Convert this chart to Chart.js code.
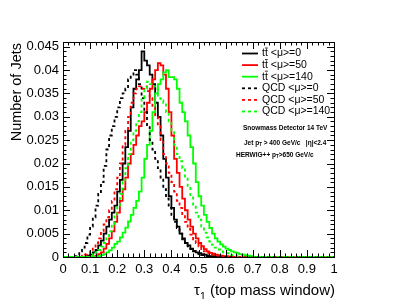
<!DOCTYPE html>
<html>
<head>
<meta charset="utf-8">
<script src="https://cdn.jsdelivr.net/npm/chart.js@4/dist/chart.umd.min.js"></script>
<style>
  body { margin: 0; background: #fff; }
  canvas { display: block; }
</style>
</head>
<body>
<canvas id="chart" width="399" height="299"></canvas>
<script>
// histogram bins of width 0.01 starting at tau1 = 0 (bins above 0.70 are empty)
const BIN_WIDTH = 0.01;

const xTicks = [0, 0.1, 0.2, 0.3, 0.4, 0.5, 0.6, 0.7, 0.8, 0.9, 1];
const yTicks = [0, 0.005, 0.01, 0.015, 0.02, 0.025, 0.03, 0.035, 0.04, 0.045];

// "tt" entries get a bar drawn over the second t
const seriesProcess = ["tt", "tt", "tt", "QCD", "QCD", "QCD"];
const seriesPileup = ["<\u03bc>=0", "<\u03bc>=50", "<\u03bc>=140", "<\u03bc>=0", "<\u03bc>=50", "<\u03bc>=140"];

const ttbarMu0 = [
  0, 0, 0, 0, 0, 0, 0, 0, 0.0001, 0.0003,
  0.0005, 0.001, 0.0015, 0.0025, 0.0035, 0.005, 0.0065, 0.008, 0.0095, 0.011,
  0.014, 0.0165, 0.020, 0.0235, 0.027, 0.032, 0.036, 0.038, 0.040, 0.044,
  0.042, 0.041, 0.039, 0.037, 0.033, 0.030, 0.026, 0.021, 0.017, 0.013,
  0.0105, 0.008, 0.0065, 0.005, 0.004, 0.003, 0.0025, 0.0018, 0.0013, 0.001,
  0.0008, 0.0006, 0.0005, 0.0003, 0.0002, 0.0002, 0.0001, 0.0001, 0, 0,
  0, 0, 0, 0, 0, 0, 0, 0, 0, 0
];
const ttbarMu50 = [
  0, 0, 0, 0, 0, 0, 0, 0, 0, 0,
  0, 0.0001, 0.0003, 0.0006, 0.001, 0.0018, 0.0028, 0.004, 0.0055, 0.0075,
  0.0095, 0.012, 0.0145, 0.017, 0.020, 0.022, 0.024, 0.026, 0.028, 0.029,
  0.031, 0.033, 0.036, 0.038, 0.040, 0.0415, 0.041, 0.039, 0.036, 0.031,
  0.026, 0.021, 0.018, 0.015, 0.0125, 0.010, 0.008, 0.0065, 0.005, 0.004,
  0.003, 0.0023, 0.0017, 0.0012, 0.0009, 0.0007, 0.0005, 0.0004, 0.0003, 0.0002,
  0.0002, 0.0001, 0, 0, 0, 0, 0, 0, 0, 0
];
const ttbarMu140 = [
  0, 0, 0, 0, 0, 0, 0, 0, 0, 0,
  0, 0, 0, 0.0002, 0.0004, 0.0006, 0.001, 0.0014, 0.002, 0.0028,
  0.0033, 0.0042, 0.0052, 0.0063, 0.0076, 0.009, 0.0105, 0.012, 0.014, 0.017,
  0.021, 0.024, 0.027, 0.031, 0.035, 0.037, 0.038, 0.0395, 0.040, 0.0385,
  0.0385, 0.038, 0.036, 0.033, 0.031, 0.029, 0.026, 0.0235, 0.020, 0.016,
  0.013, 0.011, 0.009, 0.0075, 0.0062, 0.005, 0.004, 0.0033, 0.0027, 0.0022,
  0.0018, 0.0015, 0.0012, 0.001, 0.0008, 0.0006, 0.0005, 0.0004, 0.0003, 0.0002
];
const qcdMu0 = [
  0, 0, 0, 0, 0.0002, 0.0005, 0.0012, 0.002, 0.003, 0.0048,
  0.0065, 0.0085, 0.011, 0.0135, 0.016, 0.0195, 0.023, 0.026, 0.028, 0.030,
  0.032, 0.034, 0.035, 0.036, 0.038, 0.039, 0.040, 0.039, 0.037, 0.034,
  0.031, 0.028, 0.025, 0.023, 0.021, 0.019, 0.017, 0.0145, 0.0125, 0.0105,
  0.009, 0.0075, 0.0062, 0.005, 0.0038, 0.003, 0.0023, 0.0017, 0.0012, 0.0009,
  0.0006, 0.0004, 0.0003, 0.0002, 0.0001, 0, 0, 0, 0, 0,
  0, 0, 0, 0, 0, 0, 0, 0, 0, 0
];
const qcdMu50 = [
  0, 0, 0, 0, 0, 0, 0, 0.0003, 0.0005, 0.0008,
  0.0012, 0.002, 0.003, 0.004, 0.0055, 0.007, 0.0085, 0.010, 0.012, 0.0145,
  0.017, 0.020, 0.024, 0.027, 0.030, 0.033, 0.035, 0.036, 0.0365, 0.036,
  0.0365, 0.0355, 0.034, 0.032, 0.030, 0.028, 0.025, 0.022, 0.020, 0.018,
  0.016, 0.014, 0.012, 0.0105, 0.009, 0.0075, 0.006, 0.0048, 0.0038, 0.003,
  0.0023, 0.0017, 0.0012, 0.0009, 0.0007, 0.0005, 0.0004, 0.0003, 0.0002, 0.0001,
  0, 0, 0, 0, 0, 0, 0, 0, 0, 0
];
const qcdMu140 = [
  0, 0, 0, 0, 0, 0, 0, 0, 0, 0,
  0.0003, 0.0006, 0.001, 0.0015, 0.0022, 0.003, 0.004, 0.0055, 0.007, 0.009,
  0.011, 0.0135, 0.016, 0.019, 0.022, 0.025, 0.027, 0.029, 0.031, 0.034,
  0.036, 0.0375, 0.037, 0.0365, 0.036, 0.034, 0.0335, 0.033, 0.031, 0.029,
  0.027, 0.024, 0.022, 0.0205, 0.019, 0.017, 0.015, 0.013, 0.011, 0.0095,
  0.008, 0.0065, 0.0052, 0.0042, 0.0033, 0.0026, 0.002, 0.0016, 0.0012, 0.001,
  0.0008, 0.0006, 0.0004, 0.0003, 0.0002, 0.0002, 0.0001, 0, 0, 0
];

const FONT = "'Liberation Sans', Arial, Helvetica, sans-serif";

// bin contents -> step points at the low edge of each bin
function toSteps(values) {
  const pts = values.map((v, i) => ({ x: +(i * BIN_WIDTH).toFixed(2), y: v }));
  pts.push({ x: +(values.length * BIN_WIDTH).toFixed(2), y: 0 });
  pts.push({ x: 1, y: 0 });
  return pts;
}

const styles = [
  { data: ttbarMu0, color: "#000000", dash: [] },
  { data: ttbarMu50, color: "#ff0000", dash: [] },
  { data: ttbarMu140, color: "#00ff00", dash: [] },
  { data: qcdMu0, color: "#000000", dash: [3, 3] },
  { data: qcdMu50, color: "#ff0000", dash: [3, 3] },
  { data: qcdMu140, color: "#00ff00", dash: [3, 3] }
];

const datasets = styles.map((s, i) => ({
  label: seriesProcess[i] + (i < 3 ? "\u0304" : "") + " " + seriesPileup[i],
  data: toSteps(s.data),
  borderColor: s.color,
  borderDash: s.dash,
  borderWidth: 1.8,
  pointRadius: 0,
  fill: false,
  stepped: "before",
  order: 6 - i
}));

// draw text pieces, some of them as subscripts
function richText(ctx, x, y, parts, size, bold) {
  let cx = x;
  parts.forEach(p => {
    const fs = p.sub ? size * 0.7 : size;
    ctx.font = (bold ? "bold " : "") + fs + "px " + FONT;
    ctx.fillText(p.t, cx, p.sub ? y + size * 0.3 : y);
    cx += ctx.measureText(p.t).width;
  });
  return cx;
}

const rootFrame = {
  id: "rootFrame",
  afterDatasetsDraw(chart) {
    const { ctx, chartArea: a, scales } = chart;
    const xs = scales.x, ys = scales.y;
    ctx.save();
    ctx.strokeStyle = "#000";
    ctx.lineWidth = 1;
    ctx.strokeRect(a.left + 0.5, a.top + 0.5, a.right - a.left, a.bottom - a.top);

    // inner ticks on all four sides
    ctx.beginPath();
    for (let i = 0; i <= 50; i++) {
      const v = +(i * 0.02).toFixed(2);
      const p = Math.round(xs.getPixelForValue(v)) + 0.5;
      const len = i % 5 === 0 ? 7 : 3.5;
      ctx.moveTo(p, a.bottom); ctx.lineTo(p, a.bottom - len);
      ctx.moveTo(p, a.top); ctx.lineTo(p, a.top + len);
    }
    for (let i = 0; i <= 46; i++) {
      const v = +(i * 0.001).toFixed(3);
      const p = Math.round(ys.getPixelForValue(v)) + 0.5;
      const len = i % 5 === 0 ? 7 : 3.5;
      ctx.moveTo(a.left, p); ctx.lineTo(a.left + len, p);
      ctx.moveTo(a.right, p); ctx.lineTo(a.right - len, p);
    }
    ctx.stroke();

    // axis titles
    ctx.fillStyle = "#000";
    ctx.textBaseline = "alphabetic";
    ctx.textAlign = "left";
    const xParts = [{ t: "\u03c4" }, { t: "1", sub: true }, { t: " (top mass window)" }];
    let w = 0;
    xParts.forEach(p => {
      ctx.font = (p.sub ? 15 * 0.7 : 15) + "px " + FONT;
      w += ctx.measureText(p.t).width;
    });
    richText(ctx, a.right - w + 1, 295, xParts, 15, false);

    ctx.save();
    ctx.translate(17, a.top + 1);
    ctx.rotate(-Math.PI / 2);
    ctx.font = "14.5px " + FONT;
    ctx.textAlign = "right";
    ctx.textBaseline = "middle";
    ctx.fillText("Number of Jets", 0, 0);
    ctx.restore();

    // legend
    ctx.textAlign = "left";
    ctx.textBaseline = "middle";
    chart.data.datasets.forEach((ds, i) => {
      const y = 53.5 + i * 11.6;
      ctx.beginPath();
      ctx.strokeStyle = ds.borderColor;
      ctx.lineWidth = 1.8;
      ctx.setLineDash(ds.borderDash);
      ctx.moveTo(242, y); ctx.lineTo(258, y);
      ctx.stroke();
      ctx.setLineDash([]);
      ctx.font = "10.5px " + FONT;
      const proc = seriesProcess[i];
      ctx.fillText(proc, 262, y);
      const pw = ctx.measureText(proc).width;
      if (proc === "tt") {
        const tw = ctx.measureText("t").width;
        ctx.beginPath();
        ctx.strokeStyle = "#000";
        ctx.lineWidth = 0.8;
        ctx.moveTo(262 + tw, y - 5.5);
        ctx.lineTo(262 + 2 * tw, y - 5.5);
        ctx.stroke();
      }
      ctx.fillText(" " + seriesPileup[i], 262 + pw, y);
    });

    // detector notes
    ctx.textBaseline = "middle";
    ctx.font = "bold 6.5px " + FONT;
    ctx.fillText("Snowmass Detector 14 TeV", 243, 128);
    richText(ctx, 244, 143, [{ t: "Jet p" }, { t: "T", sub: true }, { t: " > 400 GeV/c   |\u03b7|<2.4" }], 6.5, true);
    richText(ctx, 236, 155, [{ t: "HERWIG++ p" }, { t: "T", sub: true }, { t: ">650 GeV/c" }], 6.5, true);
    ctx.restore();
  }
};

new Chart(document.getElementById("chart").getContext("2d"), {
  type: "line",
  data: { datasets },
  options: {
    responsive: false,
    animation: false,
    events: [],
    layout: { padding: { left: 0, top: 42, right: 65, bottom: 0 } },
    plugins: { legend: { display: false }, tooltip: { enabled: false } },
    scales: {
      x: {
        type: "linear",
        min: 0,
        max: 1,
        grid: { display: false, drawTicks: false },
        border: { display: false },
        afterFit: s => { s.height = 42; },
        afterBuildTicks: s => { s.ticks = xTicks.map(v => ({ value: v })); },
        ticks: {
          padding: 5,
          maxRotation: 0,
          autoSkip: false,
          color: "#000",
          font: { family: FONT, size: 13 },
          callback: v => String(v)
        }
      },
      y: {
        type: "linear",
        min: 0,
        max: 0.046,
        grid: { display: false, drawTicks: false },
        border: { display: false },
        afterFit: s => { s.width = 63; },
        afterBuildTicks: s => { s.ticks = yTicks.map(v => ({ value: v })); },
        ticks: {
          padding: 4,
          autoSkip: false,
          color: "#000",
          font: { family: FONT, size: 13 },
          callback: v => String(+v.toFixed(3))
        }
      }
    }
  },
  plugins: [rootFrame]
});
</script>
</body>
</html>
